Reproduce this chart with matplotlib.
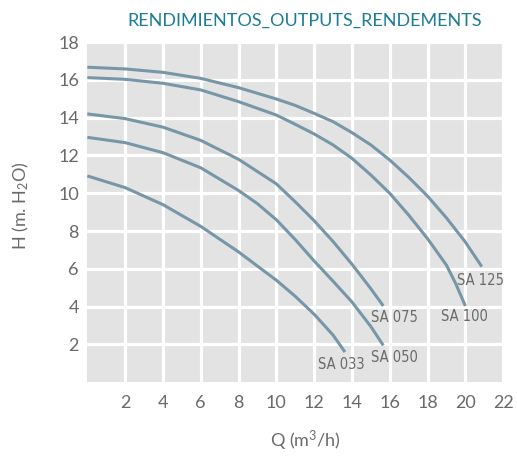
import matplotlib
matplotlib.use("Agg")
import matplotlib.pyplot as plt
from matplotlib import font_manager

# ---- data ----
sa125_q = [0, 2, 4, 6, 8, 10, 11, 12, 13, 14, 15, 16, 17, 18, 19, 20, 20.87]
sa125_h = [16.67, 16.58, 16.40, 16.08, 15.59, 14.99, 14.65, 14.23, 13.79, 13.21, 12.56, 11.76, 10.85, 9.85, 8.7, 7.42, 6.12]

sa100_q = [0, 2, 4, 6, 8, 10, 11, 12, 13, 14, 15, 16, 17, 18, 19, 19.5, 20.0]
sa100_h = [16.12, 16.03, 15.82, 15.47, 14.85, 14.14, 13.65, 13.14, 12.56, 11.85, 10.97, 10.0, 8.85, 7.6, 6.2, 5.2, 4.04]

sa075_q = [0, 2, 4, 6, 8, 10, 11, 12, 13, 14, 15, 15.66]
sa075_h = [14.2, 13.95, 13.5, 12.8, 11.8, 10.5, 9.55, 8.55, 7.45, 6.25, 4.95, 4.04]

sa050_q = [0, 2, 4, 6, 8, 9, 10, 11, 12, 13, 14, 15, 15.66]
sa050_h = [12.96, 12.68, 12.15, 11.35, 10.15, 9.45, 8.6, 7.55, 6.42, 5.35, 4.25, 2.95, 1.95]

sa033_q = [0, 2, 4, 6, 8, 9, 10, 11, 12, 13, 13.63]
sa033_h = [10.92, 10.3, 9.4, 8.25, 6.9, 6.15, 5.4, 4.55, 3.6, 2.5, 1.6]

curve_names = ["SA 125", "SA 100", "SA 075", "SA 050", "SA 033"]
label_q = [20.78, 19.95, 16.24, 16.24, 13.46]
label_h = [5.4, 3.47, 3.44, 1.32, 0.95]

x_ticks = [2, 4, 6, 8, 10, 12, 14, 16, 18, 20, 22]
y_ticks = [2, 4, 6, 8, 10, 12, 14, 16, 18]

title = "RENDIMIENTOS_OUTPUTS_RENDEMENTS"
xlabel = "Q (m$^3$/h)"
ylabel = "H (m. H$_2$O)"

# ---- styling ----
fonts = font_manager.fontManager.ttflist
avail = {f.name for f in fonts}
main_font = "Lato" if "Lato" in avail else "DejaVu Sans"
plt.rcParams['font.family'] = [main_font, 'DejaVu Sans']
plt.rcParams['mathtext.fontset'] = 'custom'
plt.rcParams['mathtext.rm'] = main_font
plt.rcParams['mathtext.it'] = main_font

label_kw = dict(fontsize=10, family=['Roboto', 'DejaVu Sans'])
if "Liberation Sans Narrow" in avail:
    label_kw = dict(fontsize=11, family=['Liberation Sans Narrow', 'DejaVu Sans'])
elif any(f.name == "DejaVu Sans" and "ondensed" in str(f.stretch) for f in fonts):
    label_kw = dict(fontsize=10.5, family=['DejaVu Sans'], fontstretch='condensed')

curve_color = "#7796a8"
text_gray = "#6a6a6a"

fig = plt.figure(figsize=(5.17, 4.57), dpi=100)
ax = fig.add_axes([0.1689, 0.1635, 0.8043, 0.7444])
ax.set_facecolor("#e3e3e3")
for s in ax.spines.values():
    s.set_visible(False)

ax.set_xlim(0, 22)
ax.set_ylim(0, 18)
ax.set_xticks(x_ticks)
ax.set_yticks(y_ticks)
ax.set_axisbelow(True)
ax.grid(True, color="white", linewidth=2.3)
ax.tick_params(length=0, labelsize=13, colors=text_gray, pad=9)
ax.tick_params(axis='y', pad=6)

for q, h in [(sa125_q, sa125_h), (sa100_q, sa100_h), (sa075_q, sa075_h),
             (sa050_q, sa050_h), (sa033_q, sa033_h)]:
    ax.plot(q, h, color=curve_color, linewidth=2.2, solid_capstyle='butt',
            solid_joinstyle='round', clip_on=False)

for name, q, h in zip(curve_names, label_q, label_h):
    ax.text(q, h, name, ha='center', va='center', color=text_gray, **label_kw)

fig.text(305 / 517, 1 - 20.5 / 457, title, ha='center', va='center',
         fontsize=13, color="#1b7d96")
fig.text(305 / 517, 1 - 441 / 457, xlabel, ha='center', va='center',
         fontsize=13, color=text_gray)
fig.text(21 / 517, 1 - 206 / 457, ylabel, ha='center', va='center',
         fontsize=13, color=text_gray, rotation=90)

fig.savefig("out.png", dpi=100)
